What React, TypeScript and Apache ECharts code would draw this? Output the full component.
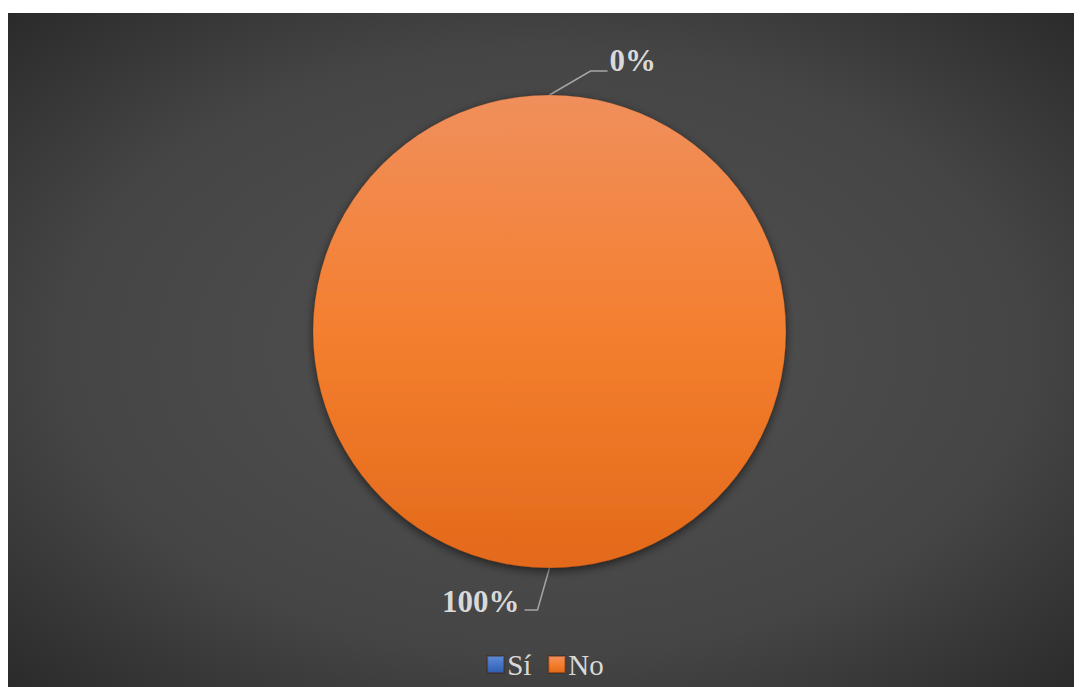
import React, { useEffect, useRef } from "react";
import * as echarts from "echarts";

const categories = ["Sí", "No"];
const values = [0, 100];

const CW = 1074;
const CH = 674;
const CX = 541.5;
const CY = 318.5;
const R = 236.5;
const FONT = "'Liberation Serif', 'Times New Roman', serif";

export default function App() {
  const ref = useRef<HTMLDivElement>(null);
  useEffect(() => {
    document.documentElement.style.overflow = "hidden";
    const chart = echarts.init(ref.current!, null, { renderer: "svg" });
    const colors = [
      new echarts.graphic.LinearGradient(0, 0, 0, 1, [
        { offset: 0, color: "#5B8BD8" },
        { offset: 1, color: "#2F5EB2" },
      ]),
      new echarts.graphic.LinearGradient(0, 0, 0, 1, [
        { offset: 0, color: "#F08F5C" },
        { offset: 0.5, color: "#F47F2F" },
        { offset: 1, color: "#E3691A" },
      ]),
    ];
    const option: any = {
      animation: false,
      backgroundColor: {
        type: "radial",
        x: 0.5,
        y: 0.5,
        r: 0.75,
        colorStops: [
          { offset: 0, color: "#525252" },
          { offset: 0.6, color: "#454545" },
          { offset: 1, color: "#262626" },
        ],
      },
      legend: {
        data: categories,
        top: 632,
        left: "center",
        icon: "rect",
        itemWidth: 17,
        itemHeight: 17,
        itemGap: 16,
        textStyle: {
          color: "#D9D9D9",
          fontSize: 29,
          fontFamily: FONT,
          padding: [0, 0, 0, -2],
        },
      },
      series: [
        {
          type: "pie",
          center: [CX, CY],
          radius: [0, R],
          startAngle: 90,
          clockwise: true,
          data: categories.map((c, i) => ({
            name: c,
            value: values[i],
            itemStyle: { color: colors[i] },
          })),
          itemStyle: {
            shadowBlur: 10,
            shadowColor: "rgba(0,0,0,0.55)",
            shadowOffsetY: 3,
            borderColor: "rgba(60,30,10,0.4)",
            borderWidth: 0.5,
          },
          label: {
            show: true,
            formatter: "{d}%",
            color: "#D9D9D9",
            fontSize: 31,
            fontWeight: "bold",
            fontFamily: FONT,
          },
          labelLine: {
            show: true,
            lineStyle: { color: "#A6A6A6", width: 1.5 },
          },
          labelLayout: (p: any) => {
            if (p.dataIndex === 0) {
              const sx = CX, sy = CY - R;
              return {
                x: sx + 60,
                y: sy - 35,
                align: "left",
                verticalAlign: "middle",
                labelLinePoints: [
                  [sx, sy],
                  [sx + 41, sy - 24],
                  [sx + 58, sy - 24],
                ],
              };
            }
            const sx = CX, sy = CY + R;
            return {
              x: sx - 30,
              y: sy + 33,
              align: "right",
              verticalAlign: "middle",
              labelLinePoints: [
                [sx, sy],
                [sx - 12, sy + 42],
                [sx - 25, sy + 42],
              ],
            };
          },
        },
      ],
    };
    chart.setOption(option);
    return () => chart.dispose();
  }, []);
  return (
    <div style={{ paddingTop: 5 }}>
      <div ref={ref} style={{ width: CW, height: CH }} />
    </div>
  );
}
